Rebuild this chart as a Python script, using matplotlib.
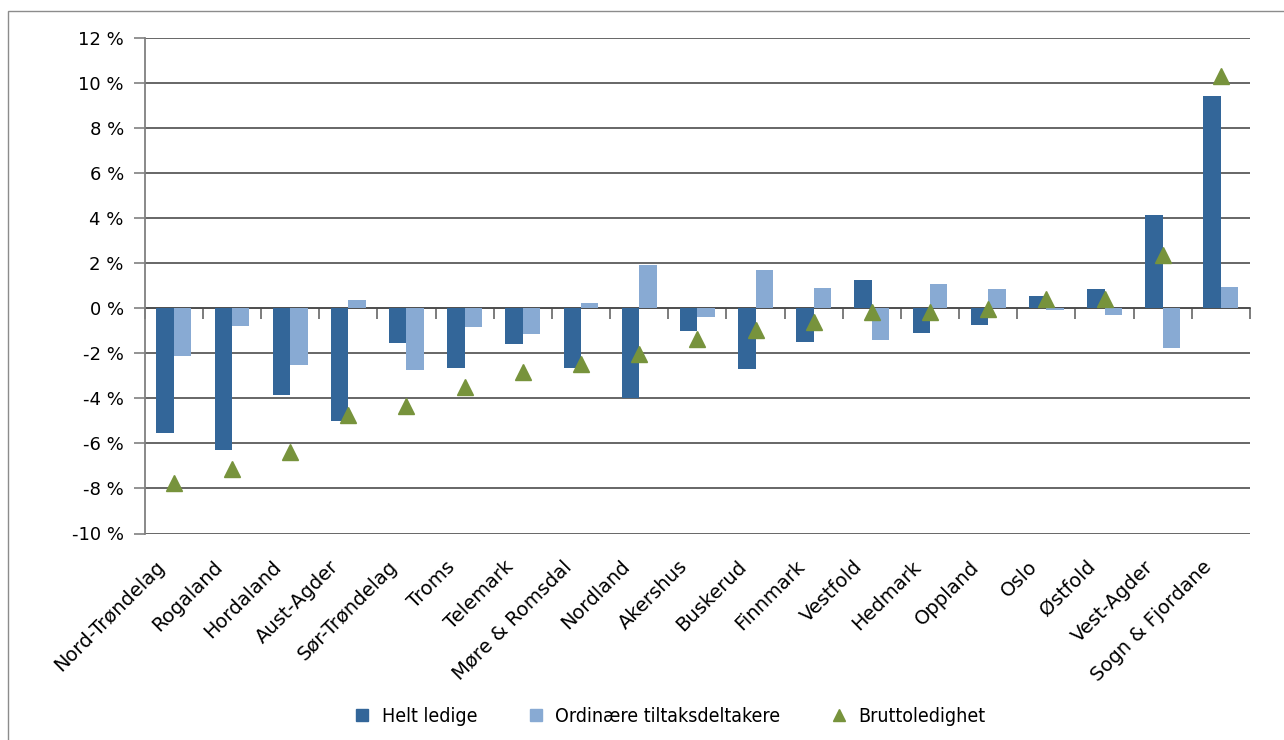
import matplotlib
matplotlib.use("Agg")
import matplotlib.pyplot as plt
import matplotlib.transforms as mtransforms
from matplotlib.lines import Line2D
from matplotlib.patches import Rectangle
from matplotlib.ticker import FuncFormatter, MultipleLocator
import numpy as np

# Change in unemployment by county (percent)
regions = ["Nord-Trøndelag", "Rogaland", "Hordaland", "Aust-Agder", "Sør-Trøndelag",
           "Troms", "Telemark", "Møre & Romsdal", "Nordland", "Akershus", "Buskerud",
           "Finnmark", "Vestfold", "Hedmark", "Oppland", "Oslo", "Østfold",
           "Vest-Agder", "Sogn & Fjordane"]
helt_ledige = [-5.55, -6.3, -3.85, -5.0, -1.55, -2.65, -1.6, -2.65, -4.0, -1.0,
               -2.7, -1.52, 1.27, -1.12, -0.77, 0.52, 0.83, 4.15, 9.4]
tiltaksdeltakere = [-2.12, -0.79, -2.52, 0.35, -2.74, -0.83, -1.14, 0.22, 1.93, -0.38,
                    1.71, 0.88, -1.43, 1.05, 0.83, -0.08, -0.32, -1.77, 0.96]
bruttoledighet = [-7.75, -7.14, -6.39, -4.73, -4.34, -3.51, -2.83, -2.46, -2.04, -1.37,
                  -0.99, -0.61, -0.16, -0.16, -0.02, 0.42, 0.42, 2.37, 10.3]

DARK = "#336699"
LIGHT = "#88aad3"
GREEN = "#77933c"
GRID = "#4d4d4d"

fig = plt.figure(figsize=(12.84, 7.4), dpi=100)
ax = fig.add_axes([144.7 / 1284, 1 - 533.5 / 740, (1250 - 144.7) / 1284, (533.5 - 37.7) / 740])

x = np.arange(len(regions))
w = 0.30
ax.bar(x - w / 2, helt_ledige, w, color=DARK, zorder=2)
ax.bar(x + w / 2, tiltaksdeltakere, w, color=LIGHT, zorder=2)
ax.plot(x, bruttoledighet, linestyle="none", marker="^", markersize=12,
        color=GREEN, zorder=3)

ymin, ymax = -10, 12
ax.set_ylim(ymin, ymax)
ax.set_xlim(-0.5, len(regions) - 0.5)
ax.yaxis.set_major_locator(MultipleLocator(2))
ax.yaxis.set_major_formatter(FuncFormatter(lambda v, _: f"{v:.0f} %"))
ax.grid(axis="y", color=GRID, linewidth=1.2)
ax.set_axisbelow(True)

for side in ("top", "right", "bottom"):
    ax.spines[side].set_visible(False)
ax.spines["left"].set_color("#808080")
ax.spines["left"].set_linewidth(1.3)
ax.tick_params(axis="y", direction="out", length=8, width=1.2, color="#808080",
               pad=7, labelsize=13)

# category labels along the bottom edge
ax.set_xticks(x)
ax.set_xticklabels(regions, rotation=45, ha="right", rotation_mode="anchor", fontsize=14)
ax.tick_params(axis="x", length=0, pad=17)
shift = mtransforms.ScaledTranslation(-0.19, 0, fig.dpi_scale_trans)
for lbl in ax.get_xticklabels():
    lbl.set_transform(lbl.get_transform() + shift)

# category separators on the zero line
zero_axis = ax.secondary_xaxis((0 - ymin) / (ymax - ymin))
zero_axis.set_xticks(np.arange(len(regions) + 1) - 0.5)
zero_axis.set_xticklabels([])
zero_axis.tick_params(axis="x", direction="out", length=8, width=1.2, color="#666666")
zero_axis.spines["bottom"].set_color(GRID)
zero_axis.spines["bottom"].set_linewidth(1.2)

handles = [
    Line2D([], [], linestyle="none", marker="s", markersize=8, color=DARK),
    Line2D([], [], linestyle="none", marker="s", markersize=8, color=LIGHT),
    Line2D([], [], linestyle="none", marker="^", markersize=9, color=GREEN),
]
fig.legend(handles, ["Helt ledige", "Ordinære tiltaksdeltakere", "Bruttoledighet"],
           loc="center", bbox_to_anchor=(668 / 1284, 1 - 716 / 740), ncol=3,
           frameon=False, handletextpad=0.4, columnspacing=2.4, handlelength=1.2,
           prop={"family": "DejaVu Sans", "stretch": "condensed", "size": 14})

# outer chart border
fig.patches.append(Rectangle((7.5 / 1284, -0.1), 2, 1 - 11 / 740 + 0.1,
                             transform=fig.transFigure, fill=False,
                             edgecolor="#8c8c8c", linewidth=1))

fig.savefig("out.png", dpi=100)
